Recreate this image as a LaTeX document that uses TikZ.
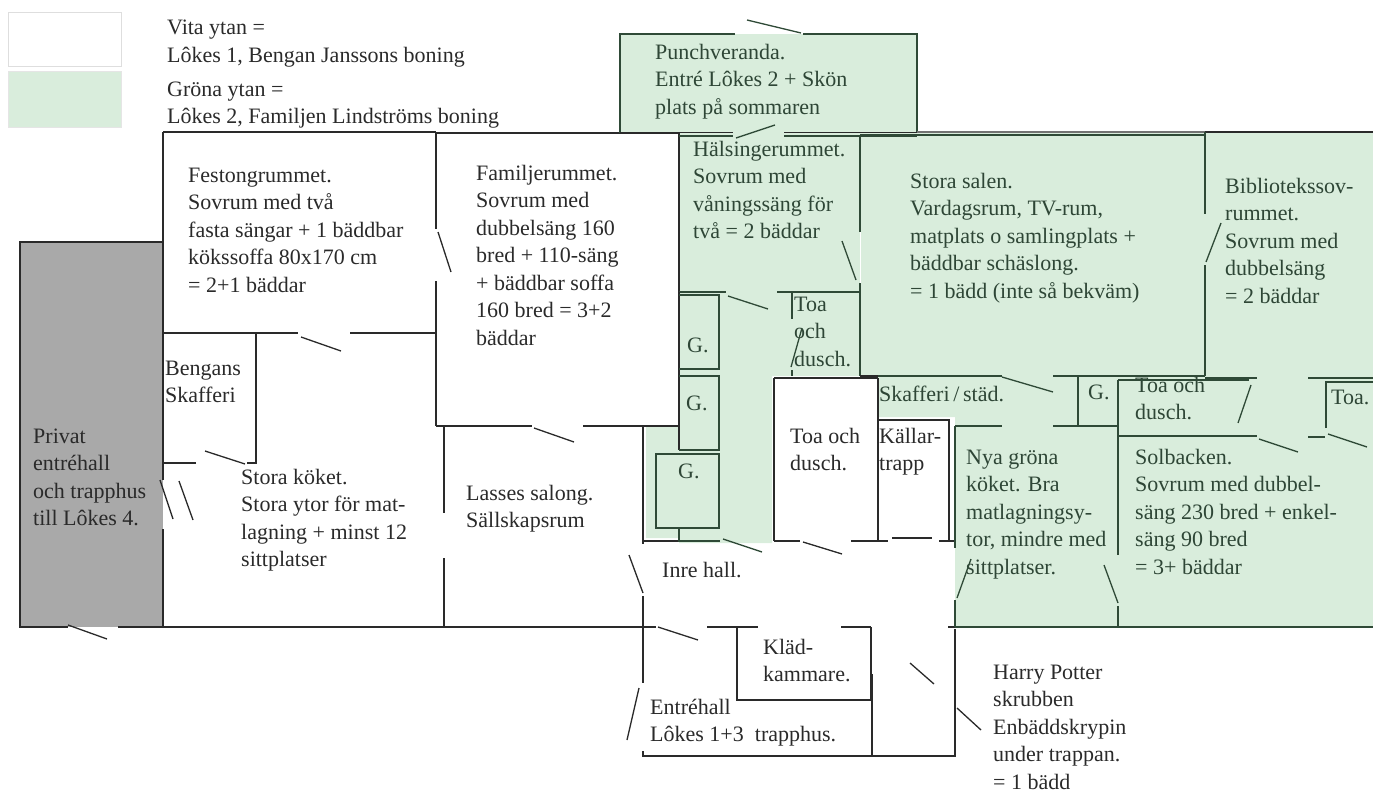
\documentclass[tikz,border=0pt]{standalone}
\usepackage{fontspec}
\setmainfont{Liberation Serif}
\definecolor{gronyta}{HTML}{D9EDDC}
\definecolor{gravyta}{HTML}{A9A9A9}
\definecolor{vaggsvart}{HTML}{2A2A2A}
\definecolor{vagggron}{HTML}{2F4A37}
\definecolor{textgron}{HTML}{2E4636}
\begin{document}
\begin{tikzpicture}[
        x=1pt, y=-1pt,
        vagg/.style={line width=1.8pt, vaggsvart},
        tjock/.style={line width=2.8pt, vaggsvart},
        gvagg/.style={line width=1.8pt, vagggron},
        gtjock/.style={line width=2.8pt, vagggron},
        dorr/.style={line width=1.3pt, vaggsvart},
        gdorr/.style={line width=1.3pt, vagggron},
        rumtext/.style={anchor=base west, inner sep=0pt, align=left, text=vaggsvart,
            font=\fontsize{22}{27.5}\selectfont},
        gtext/.style={rumtext, text=textgron}
    ]
        \useasboundingbox (0,0) rectangle (1373,792);
        % Ytor
        \fill[gronyta] (620,34) rectangle (917,133);
        \fill[gronyta] (679,133) -- (1373,133) -- (1373,627) -- (955,627) -- (955,417) -- (878,417)
            -- (878,376) -- (772,376) -- (772,543) -- (679,543) -- (679,538) -- (646,538) -- (646,426) -- (679,426) -- cycle;
        \fill[gravyta] (20,242) rectangle (163,627);
        \fill[white] (774,378) rectangle (878,541);
        \draw[line width=1pt, white] (860,232) -- (860,283);

        % Teckenförklaring
        \draw[line width=1pt, black!13, fill=white] (8,13) rectangle (121,67);
        \draw[line width=1pt, black!10, fill=gronyta] (8,72) rectangle (121,127);
        \node[rumtext] (vita) at (167,62.5) {Vita ytan =\\Lôkes 1, Bengan Janssons boning};
        \node[rumtext] (grona) at (167,123.5) {Gröna ytan =\\Lôkes 2, Familjen Lindströms boning};

        % Vita ytan
        \draw[tjock] (163,132) -- (436,132);
        \draw[vagg] (20,242) -- (163,242);
        \draw[vagg] (20,241) -- (20,627) -- (68,627) (118,627) -- (163,627);
        \draw[vagg] (163,132) -- (163,480) (163,529) -- (163,627);
        \draw[vagg] (436,132) -- (436,229) (436,281) -- (436,426);
        \draw[vagg] (163,333) -- (298,333) (350,333) -- (436,333);
        \draw[vagg] (256,333) -- (256,463) -- (247,463) (196,463) -- (163,463);
        \draw[vagg] (444,426) -- (444,513) (444,558) -- (444,627);
        \draw[tjock] (436,133) -- (679,133);
        \draw[vagg] (679,133) -- (679,426);
        \draw[tjock] (436,426) -- (532,426) (583,426) -- (679,426);
        \draw[tjock] (163,627) -- (444,627);
        \draw[vagg] (444,627) -- (656,627) (707,627) -- (758,627) (841,627) -- (871,627);
        \draw[vagg] (643,426) -- (643,544) (643,596) -- (643,683);
        \draw[vagg] (643,541) -- (679,541);
        \draw[vagg] (737,627) -- (737,700) -- (871,700) -- (871,627);
        \draw[tjock] (872,674) -- (872,756);
        \draw[vagg] (643,751) -- (643,756) -- (955,756);
        \draw[tjock] (955,629) -- (955,757);
        \draw[vagg] (948,627) -- (955,627);

        % Toa och källartrapp
        \draw[tjock] (774,378) -- (878,378);
        \draw[vagg] (774,378) -- (774,541) (878,378) -- (878,541);
        \draw[vagg] (774,541) -- (800,541) (851,541) -- (888,541) (939,541) -- (955,541);
        \draw[vagg] (892,538) -- (932,538);
        \draw[vagg] (878,420) -- (949,420) -- (949,541);

        % Gröna ytan
        \draw[gvagg] (620,133) -- (620,34) -- (735,34) (803,34) -- (917,34) -- (917,133);
        \draw[vagg] (620,132.5) -- (733,132.5) (784,132.5) -- (917,132.5);
        \draw[line width=1.5pt, black!55] (917,132) -- (1205,132);
        \draw[vagg] (1205,132) -- (1373,132);
        \draw[gvagg] (679,136) -- (733,136) (784,136) -- (917,136);
        \draw[gvagg] (860,135) -- (1205,135);
        \draw[gtjock] (860,135) -- (860,232) (860,283) -- (860,376);
        \draw[gtjock] (679,292) -- (726,292) (777,292) -- (860,292);
        \draw[vagg] (679,292) -- (679,450);
        \draw[gvagg] (679,295) -- (719,295) -- (719,369) -- (679,369);
        \draw[gvagg] (679,376) -- (719,376) -- (719,450) -- (679,450);
        \draw[gvagg] (656,454) rectangle (719,528);
        \draw[gvagg] (679,528) -- (679,541) -- (720,541);
        \draw[gvagg] (792,293) -- (792,319) (792,370) -- (792,376);
        \draw[tjock] (860,376) -- (1002,376);
        \draw[gvagg] (878,376) -- (1002,376) (1053,376) -- (1205,376);
        \draw[gtjock] (1205,132) -- (1205,214) (1205,265) -- (1205,376);
        \draw[gvagg] (1205,378) -- (1257,378) (1308,378) -- (1373,378);
        \draw[gvagg] (955,426) -- (1002,426) (1053,426) -- (1117,426);
        \draw[gvagg] (955,426) -- (955,548) (955,600) -- (955,627);
        \draw[gvagg] (1078,376) -- (1078,426);
        \draw[gvagg] (1118,380) -- (1118,434);
        \draw[gtjock] (1118,436) -- (1257,436) (1308,437) -- (1325,437);
        \draw[gtjock] (1118,434) -- (1118,555) (1118,606) -- (1118,627);
        \draw[gvagg] (1326,428) -- (1326,382) -- (1373,382);
        \draw[gtjock] (955,627) -- (1373,627);

        % Rum, vita ytan
        \node[rumtext] (festong) at (188,292) {Festongrummet.\\Sovrum med två\\fasta sängar + 1 bäddbar\\kökssoffa 80x170 cm\\= 2+1 bäddar};
        \node[rumtext] (familje) at (476,345) {Familjerummet.\\Sovrum med\\dubbelsäng 160\\bred + 110-säng\\+ bäddbar soffa\\160 bred = 3+2\\bäddar};
        \node[rumtext] (skafferi) at (165,402.5) {Bengans\\Skafferi};
        \node[rumtext] (privat) at (33,525.5) {Privat\\entréhall\\och trapphus\\till Lôkes 4.};
        \node[rumtext] (koket) at (241,566.5) {Stora köket.\\Stora ytor för mat-\\lagning + minst 12\\sittplatser};
        \node[rumtext] (salong) at (466,527.5) {Lasses salong.\\Sällskapsrum};
        \node[rumtext] (inre) at (662,577) {Inre hall.};
        \node[rumtext] (toavit) at (790,470.5) {Toa och\\dusch.};
        \node[rumtext] (kallar) at (879,470.5) {Källar-\\trapp};
        \node[rumtext] (klad) at (763,681.5) {Kläd-\\kammare.};
        \node[rumtext] (entre) at (650,741.5) {Entréhall\\Lôkes 1+3\enspace trapphus.};
        \node[rumtext] (potter) at (993,789) {Harry Potter\\skrubben\\Enbäddskrypin\\under trappan.\\= 1 bädd};

        % Rum, gröna ytan
        \node[gtext] (punch) at (655,114) {Punchveranda.\\Entré Lôkes 2 + Skön\\plats på sommaren};
        \node[gtext] (halsinge) at (693,238.5) {Hälsingerummet.\\Sovrum med\\våningssäng för\\två = 2 bäddar};
        \node[gtext] (salen) at (910,298) {Stora salen.\\Vardagsrum, TV-rum,\\matplats o samlingplats +\\bäddbar schäslong.\\= 1 bädd (inte så bekväm)};
        \node[gtext] (biblio) at (1225,303) {Bibliotekssov-\\rummet.\\Sovrum med\\dubbelsäng\\= 2 bäddar};
        \node[gtext] (gett) at (687,352) {G.};
        \node[gtext] (gtva) at (686,410) {G.};
        \node[gtext] (gtre) at (678,478) {G.};
        \node[gtext] (gfyra) at (1088,399) {G.};
        \node[gtext] (toaett) at (794,366) {Toa\\och\\dusch.};
        \node[gtext] (stad) at (879,401) {Skafferi\,/\,städ.};
        \node[gtext] (nya) at (966,574) {Nya gröna\\köket. Bra\\matlagningsy-\\tor, mindre med\\sittplatser.};
        \node[gtext] (toatva) at (1135,419.5) {Toa och\\dusch.};
        \node[gtext] (toatre) at (1331,404) {Toa.};
        \node[gtext] (sol) at (1135,574) {Solbacken.\\Sovrum med dubbel-\\säng 230 bred + enkel-\\säng 90 bred\\= 3+ bäddar};

        % Dörrar
        \draw[gvagg] (1118,380) -- (1249,380);
        \foreach \ax/\ay/\bx/\by in {68/625/107/639, 438/232/451/272, 301/337/341/351, 205/451/245/464,
            160/480/173/519, 179/481/193/520, 534/428/574/442, 629/555/643/593, 639/688/627/740,
            658/627/698/640, 803/542/842/554, 910/663/934/684, 957/708/981/730}
            \draw[dorr] (\ax,\ay) -- (\bx,\by);
        \foreach \ax/\ay/\bx/\by in {747/20/801/33, 736/138/775/125, 842/241/856/280, 728/296/768/309,
            802/328/791/367, 723/539/762/552, 957/598/971/559, 1002/377/1053/392, 1221/223/1206/262,
            1328/434/1367/447, 1259/439/1298/452, 1251/385/1238/423, 1104/565/1118/603}
            \draw[gdorr] (\ax,\ay) -- (\bx,\by);
    \end{tikzpicture}
\end{document}
